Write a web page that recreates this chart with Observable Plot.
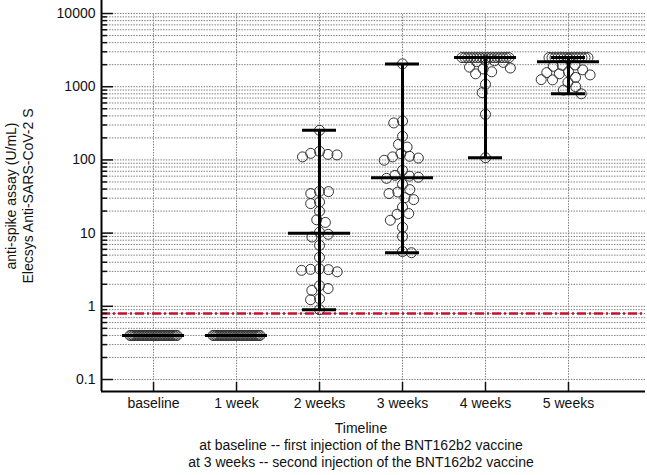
<!DOCTYPE html>
<html><head><meta charset="utf-8">
<script src="https://cdn.jsdelivr.net/npm/d3@7"></script>
<script src="https://cdn.jsdelivr.net/npm/@observablehq/plot@0.6"></script>
<style>
body{margin:0;background:#fff;font-family:"Liberation Sans",Arial,sans-serif;}
#cap{width:572px;padding-left:75px;text-align:center;font-size:14px;line-height:17px;color:#111;}
</style></head><body>
<div id="chart"></div>
<div id="cap"><div>Timeline</div><div>at baseline -- first injection of the BNT162b2 vaccine</div><div>at 3 weeks -- second injection of the BNT162b2 vaccine</div></div>
<script>
const categories = ["baseline", "1 week", "2 weeks", "3 weeks", "4 weeks", "5 weeks"];
const yTickLabels = [0.1, 1, 10, 100, 1000, 10000];
const cutoff = 0.8;

const week0 = [0.4,0.4,0.4,0.4,0.4,0.4,0.4,0.4,0.4,0.4,0.4,0.4,0.4,0.4,0.4,0.4,0.4,0.4,0.4,0.4,0.4,0.4,0.4,0.4,0.4,0.4,0.4,0.4,0.4,0.4];
const week1 = [0.4,0.4,0.4,0.4,0.4,0.4,0.4,0.4,0.4,0.4,0.4,0.4,0.4,0.4,0.4,0.4,0.4,0.4,0.4,0.4,0.4,0.4,0.4,0.4,0.4,0.4,0.4,0.4,0.4,0.4];
const week2 = [0.90,1.23,1.27,1.65,1.75,1.91,2.96,3.10,3.17,3.20,3.25,4.67,6.81,8.84,9.63,10.3,14.0,15.2,19.9,25.3,26.6,34.7,36.9,37.2,110,117,119,123,131,254];
const week3 = [5.4,5.6,9,12,15,18.1,18.5,22.7,28.7,30.5,34.7,36.4,39.3,46.4,56,58,60,61.6,72,99,106,110,112,122,150,163,210,320,340,2050];
const week4 = [107,420,830,1080,1500,1600,1750,1800,1850,2150,2200,2260,2300,2500,2500,2500,2500,2500,2500,2500,2500,2500,2500,2500,2500,2500,2500,2500,2500,2500];
const week5 = [800,900,1000,1150,1240,1250,1340,1450,1500,1560,1600,1700,1900,1960,1980,2400,2500,2500,2500,2500,2500,2500,2500,2500,2500,2500,2500,2500,2500,2500];
const groups = [week0, week1, week2, week3, week4, week5];

const W = 647, H = 420, mL = 101, mR = 2, mT = 0, mB = 29;
const yDomain = [0.0686, 15060];
const xDomain = [-0.627, 5.928];
const R = 5;
const GAP = 9; // centre-to-centre distance allowed between swarm circles

const yPix = d3.scaleLog().domain(yDomain).range([H - mB, mT]);
const pxPerUnit = (W - mL - mR) / (xDomain[1] - xDomain[0]);

// beeswarm layout (pixel offsets from group centre)
const points = [];
groups.forEach((vals, gi) => {
  const counts = d3.rollup(vals, v => v.length, d => d);
  const rowVals = [...counts].filter(([v, c]) => c >= 4).map(([v]) => v);
  for (const v of rowVals) {
    const n = counts.get(v);
    const s = Math.min(3, 47 / (n - 1));
    for (let k = 0; k < n; k++) points.push({g: gi, v, off: (k - (n - 1) / 2) * s});
  }
  const rest = vals.filter(v => !rowVals.includes(v)).sort((a, b) => b - a);
  const placed = [];
  let flip = 1;
  for (const v of rest) {
    const y = yPix(v);
    const cands = [0];
    for (const p of placed) {
      const dy = Math.abs(p.y - y);
      if (dy < GAP) { const dx = Math.sqrt(GAP * GAP - dy * dy); cands.push(p.x + dx, p.x - dx); }
    }
    cands.sort((a, b) => Math.abs(a) - Math.abs(b) || flip * (a - b));
    const x = cands.find(c => placed.every(p => Math.hypot(p.x - c, p.y - y) >= GAP - 1e-6));
    flip = -flip;
    placed.push({x, y});
    points.push({g: gi, v, off: x});
  }
});

const stats = groups.map((vals, i) => ({x: i, min: d3.min(vals), max: d3.max(vals), med: d3.median(vals)}));
const CAP = 17 / pxPerUnit, MED = 31 / pxPerUnit;

const idx = categories.map((c, i) => i);
const gridVals = [];
for (const dec of [0.1, 1, 10, 100, 1000]) for (const m of [1,2,3,4,5,6,7,8,9]) gridVals.push(+(dec * m).toPrecision(3));
gridVals.push(10000);
const minorTicks = gridVals.filter(v => !yTickLabels.includes(v));

const chart = Plot.plot({
  width: W, height: H,
  marginLeft: mL, marginRight: mR, marginTop: mT, marginBottom: mB,
  style: {fontFamily: "Liberation Sans, Arial, sans-serif", fontSize: "14px", color: "#111", background: "#fff"},
  x: {type: "linear", domain: xDomain, label: null},
  y: {type: "log", domain: yDomain, label: null},
  marks: [
    Plot.ruleY(gridVals, {stroke: "#808080", strokeWidth: 1, strokeDasharray: "1.5,1.2"}),
    Plot.ruleX(idx, {x: d => d, y1: yDomain[0], y2: 10000, stroke: "#808080", strokeWidth: 1, strokeDasharray: "1.5,1.2"}),
    Plot.ruleY([cutoff], {stroke: "#c8102e", strokeWidth: 2.5, strokeDasharray: "9,3,2,3"}),
    Plot.dot(points, {x: d => d.g + d.off / pxPerUnit, y: "v", r: R, stroke: "#333", fill: "none", strokeWidth: 1}),
    Plot.ruleX(stats, {x: "x", y1: "min", y2: "max", stroke: "#000", strokeWidth: 3}),
    Plot.ruleY(stats, {y: "min", x1: d => d.x - CAP, x2: d => d.x + CAP, stroke: "#000", strokeWidth: 3}),
    Plot.ruleY(stats, {y: "max", x1: d => d.x - CAP, x2: d => d.x + CAP, stroke: "#000", strokeWidth: 3}),
    Plot.ruleY(stats, {y: "med", x1: d => d.x - MED, x2: d => d.x + MED, stroke: "#000", strokeWidth: 3}),
    Plot.ruleX([xDomain[0]], {stroke: "#000", strokeWidth: 2}),
    Plot.ruleY([yDomain[0]], {stroke: "#000", strokeWidth: 2}),
    Plot.axisY(yTickLabels, {tickSize: -12, tickFormat: () => "", strokeWidth: 1.5}),
    Plot.axisY(minorTicks, {tickSize: -6, tickFormat: () => "", strokeWidth: 1.5}),
    Plot.axisY(yTickLabels, {tickSize: 0, tickPadding: 6, tickFormat: d => String(d), fontSize: 14}),
    Plot.axisX(idx, {tickSize: -9, tickFormat: () => "", strokeWidth: 1.5}),
    Plot.axisX(idx, {tickSize: 0, tickPadding: 7, tickFormat: i => categories[i], fontSize: 14}),
    Plot.text(["anti-spike assay (U/mL)\nElecsys Anti-SARS-CoV-2 S"], {text: d => d, frameAnchor: "left", textAnchor: "middle", rotate: -90, dx: -82.5, lineAnchor: "middle", lineHeight: 1.21, fontSize: 14, fill: "#111"})
  ]
});
document.getElementById("chart").appendChild(chart);
</script>
</body></html>
